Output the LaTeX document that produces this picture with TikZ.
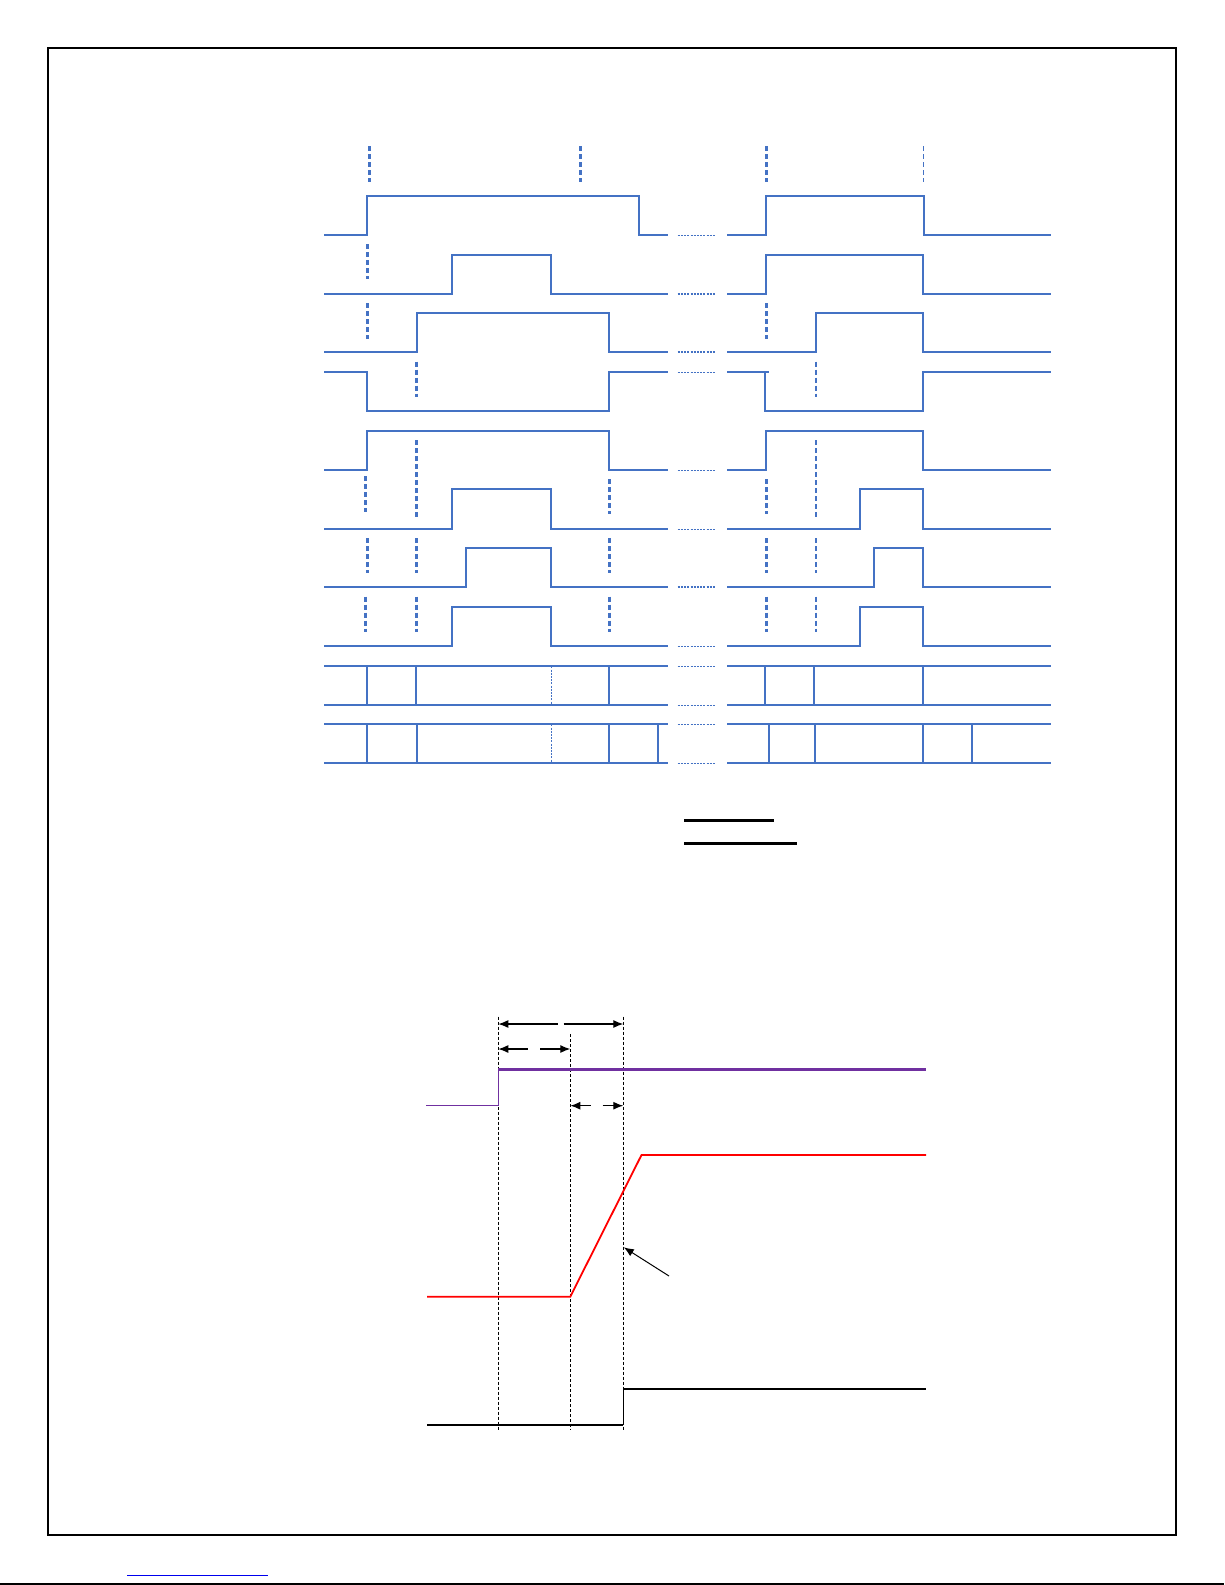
\documentclass[tikz,border=0pt]{standalone}
\usepackage{tikz}
\usetikzlibrary{arrows.meta}

\definecolor{sigblue}{HTML}{4472C4}
\definecolor{railpurple}{HTML}{7030A0}
\definecolor{linkblue}{HTML}{0000EE}

\begin{document}
\begin{tikzpicture}[x=0.5pt, y={(0pt,-0.5pt)},
    sigline/.style={sigblue, line width=1pt},
    edgeguide/.style={sigblue, line width=1.5pt, dash pattern=on 2.5pt off 1.5pt},
    edgeguidethin/.style={sigblue, line width=0.8pt, dash pattern=on 2.5pt off 1.5pt},
    gapline/.style={sigblue, line width=0.6pt, dash pattern=on 1pt off 0.6pt},
    timeguide/.style={black, line width=0.5pt, dash pattern=on 1.5pt off 1pt},
    dimarrow/.style={black, line width=0.6pt, -{Latex[length=5pt,width=4pt]}}]

    \useasboundingbox (0,0) rectangle (1225,1585);

    % Page frame and footer
    \draw[line width=0.8pt] (48,48) rectangle (1176,1535);
    \draw[line width=0.6pt] (0,1584) -- (1224,1584);
    \draw[linkblue, line width=0.5pt] (127,1575) -- (268,1575);

    % Waveforms, left half
    \draw[sigline] (324,235.3) -- (367.3,235.3) -- (367.3,196.3) -- (639.3,196.3) -- (639.3,235.3) -- (667.7,235.3);
    \draw[sigline] (324,294) -- (452.3,294) -- (452.3,255.3) -- (551.3,255.3) -- (551.3,294) -- (667.7,294);
    \draw[sigline] (324,352) -- (417.3,352) -- (417.3,313.3) -- (609.3,313.3) -- (609.3,352) -- (667.7,352);
    \draw[sigline] (324,372.3) -- (367.3,372.3) -- (367.3,411) -- (609.3,411) -- (609.3,372.3) -- (667.7,372.3);
    \draw[sigline] (324,470.3) -- (367.3,470.3) -- (367.3,431) -- (609.3,431) -- (609.3,470.3) -- (667.7,470.3);
    \draw[sigline] (324,529.3) -- (452.3,529.3) -- (452.3,489.3) -- (551.3,489.3) -- (551.3,529.3) -- (667.7,529.3);
    \draw[sigline] (324,587) -- (466.3,587) -- (466.3,548.3) -- (551.3,548.3) -- (551.3,587) -- (667.7,587);
    \draw[sigline] (324,646.3) -- (452.3,646.3) -- (452.3,607.3) -- (551.3,607.3) -- (551.3,646.3) -- (667.7,646.3);

    % Waveforms, right half
    \draw[sigline] (727,235.3) -- (766.3,235.3) -- (766.3,196.3) -- (924.3,196.3) -- (924.3,235.3) -- (1051,235.3);
    \draw[sigline] (727,294) -- (766.3,294) -- (766.3,255.3) -- (923.3,255.3) -- (923.3,294) -- (1051,294);
    \draw[sigline] (727,352) -- (815.7,352) -- (815.7,313.3) -- (923.3,313.3) -- (923.3,352) -- (1051,352);
    \draw[sigline] (727,372.3) -- (769,372.3);
    \draw[sigline] (765.3,372.3) -- (765.3,411) -- (923.3,411) -- (923.3,372.3) -- (1051,372.3);
    \draw[sigline] (727,470.3) -- (766.3,470.3) -- (766.3,431) -- (923.3,431) -- (923.3,470.3) -- (1051,470.3);
    \draw[sigline] (727,529.3) -- (860.3,529.3) -- (860.3,489.3) -- (923.3,489.3) -- (923.3,529.3) -- (1051,529.3);
    \draw[sigline] (727,587) -- (874.3,587) -- (874.3,548.3) -- (923.3,548.3) -- (923.3,587) -- (1051,587);
    \draw[sigline] (727,646.3) -- (860.3,646.3) -- (860.3,607.3) -- (923.3,607.3) -- (923.3,646.3) -- (1051,646.3);

    % Bus rows
    \foreach \yb in {666.3,705.3,724.3,763.3} {
        \draw[sigline] (324,\yb) -- (667.7,\yb);
        \draw[sigline] (727,\yb) -- (1051,\yb);
    }
    \foreach \xb in {367.3,416.3,608.7,765.3,814.3,923.3}
        \draw[sigline] (\xb,666.3) -- (\xb,705.3);
    \foreach \xb in {367.3,417.3,608.7,658.3,769.3,815.3,923.3,972.3}
        \draw[sigline] (\xb,724.3) -- (\xb,763.3);
    \draw[gapline] (551.3,666.3) -- (551.3,705.3);
    \draw[gapline] (551.3,724.3) -- (551.3,763.3);

    % Dotted breaks between the halves
    \foreach \yb in {235.3,294,352,372.3,470.3,529.3,587,646.3,666.3,705.3,724.3,763.3}
        \draw[gapline] (677.7,\yb) -- (715.7,\yb);

    % Edge guides
    \draw[edgeguide] (369,146) -- (369,182);
    \draw[edgeguide] (580,146) -- (580,182);
    \draw[edgeguide] (766,146) -- (766,182);
    \draw[edgeguidethin] (923.3,146) -- (923.3,182);
    \draw[edgeguide] (367,244) -- (367,279);
    \draw[edgeguide] (367,303) -- (367,338.7);
    \draw[edgeguide] (766,303) -- (766,338.7);
    \draw[edgeguide] (416.7,361.7) -- (416.7,397);
    \draw[edgeguidethin] (815.7,361.7) -- (815.7,397);
    \draw[edgeguide] (416.7,440) -- (416.7,519);
    \draw[edgeguidethin] (815.7,440) -- (815.7,519);
    \draw[edgeguide] (365,476) -- (365,511.7);
    \draw[edgeguide] (609,479) -- (609,514);
    \draw[edgeguide] (766,479) -- (766,514);
    \foreach \xg in {367,416.7,609,766}
        \draw[edgeguide] (\xg,538) -- (\xg,573.3);
    \draw[edgeguidethin] (815.7,538) -- (815.7,573.3);
    \foreach \xg in {365.5,416.7,609,766}
        \draw[edgeguide] (\xg,596.7) -- (\xg,632);
    \draw[edgeguidethin] (815.7,596.7) -- (815.7,632);

    % Heading rules
    \draw[line width=1.5pt] (684,820.3) -- (774,820.3);
    \draw[line width=1.5pt] (684,843.3) -- (797,843.3);

    % Lower diagram: time marks
    \coordinate (T0) at (498.3,1430);
    \coordinate (T1) at (570.3,1430);
    \coordinate (T2) at (623.3,1430);
    \draw[timeguide] (498.3,1016.7) -- (T0);
    \draw[timeguide] (570.3,1034) -- (T1);
    \draw[timeguide] (623.3,1016.7) -- (T2);

    % Interval arrows
    \coordinate (A1l) at (557.7,1024);
    \coordinate (A1r) at (563.7,1024);
    \draw[dimarrow] (A1l) -- (498.3,1024);
    \draw[dimarrow] (A1r) -- (623.3,1024);
    \coordinate (A2l) at (527.7,1049);
    \coordinate (A2r) at (540,1049);
    \draw[dimarrow] (A2l) -- (498.3,1049);
    \draw[dimarrow] (A2r) -- (570.3,1049);
    \coordinate (A3l) at (590.7,1105.7);
    \coordinate (A3r) at (602.7,1105.7);
    \draw[dimarrow] (A3l) -- (570.3,1105.7);
    \draw[dimarrow] (A3r) -- (623.3,1105.7);

    % Rail, ramp and output
    \draw[railpurple, line width=0.6pt] (426,1105.3) -- (498.3,1105.3) -- (498.3,1069.7);
    \draw[railpurple, line width=1.3pt] (498.3,1069.7) -- (926,1069.7);
    \draw[red, line width=0.9pt] (427,1296.7) -- (570.3,1296.7) -- (641.5,1155) -- (926,1155);
    \draw[line width=1.4pt] (427,1425) -- (623.3,1425);
    \draw[line width=0.7pt] (623.3,1425) -- (623.3,1389) -- (926,1389);

    % Pointer to the ramp
    \coordinate (P) at (669,1276);
    \coordinate (R) at (623.8,1247.3);
    \draw[dimarrow, line width=0.5pt] (P) -- (R);

\end{tikzpicture}
\end{document}
